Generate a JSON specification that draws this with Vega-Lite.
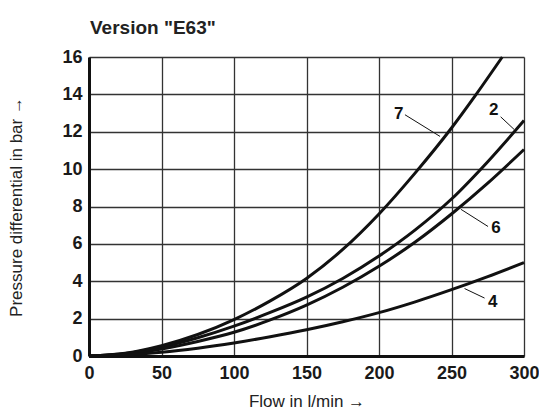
{
  "$schema": "https://vega.github.io/schema/vega-lite/v6.json",
  "width": 435,
  "height": 299,
  "autosize": {"type": "none"},
  "padding": {"left": 89, "top": 57, "right": 15, "bottom": 63},
  "background": "white",
  "title": {
    "text": "Version \"E63\"",
    "anchor": "start",
    "frame": "group",
    "font": "Liberation Sans",
    "fontSize": 19,
    "fontWeight": "bold",
    "color": "#222222",
    "baseline": "alphabetic",
    "offset": -5,
    "dx": 1
  },
  "config": {
    "view": {"stroke": null},
    "axis": {
      "labelFont": "Liberation Sans",
      "labelFontWeight": "bold",
      "labelFontSize": 18,
      "labelColor": "#1a1a1a",
      "titleFont": "Liberation Sans",
      "titleFontWeight": "normal",
      "titleFontSize": 17,
      "titleColor": "#222222",
      "domainColor": "#111111",
      "domainWidth": 3,
      "ticks": false,
      "gridColor": "#333333",
      "gridWidth": 1.3,
      "gridOpacity": 1
    }
  },
  "datasets": {
    "curves": [
      {"curve": "7", "flow": 0, "dp": 0},
      {"curve": "7", "flow": 25, "dp": 0.15},
      {"curve": "7", "flow": 50, "dp": 0.55},
      {"curve": "7", "flow": 75, "dp": 1.15},
      {"curve": "7", "flow": 100, "dp": 1.95},
      {"curve": "7", "flow": 125, "dp": 2.95},
      {"curve": "7", "flow": 150, "dp": 4.15},
      {"curve": "7", "flow": 175, "dp": 5.7},
      {"curve": "7", "flow": 200, "dp": 7.6},
      {"curve": "7", "flow": 225, "dp": 9.8},
      {"curve": "7", "flow": 250, "dp": 12.2},
      {"curve": "7", "flow": 267, "dp": 14.0},
      {"curve": "7", "flow": 285, "dp": 16.0},
      {"curve": "2", "flow": 0, "dp": 0},
      {"curve": "2", "flow": 25, "dp": 0.13},
      {"curve": "2", "flow": 50, "dp": 0.48},
      {"curve": "2", "flow": 75, "dp": 0.98},
      {"curve": "2", "flow": 100, "dp": 1.6},
      {"curve": "2", "flow": 125, "dp": 2.33},
      {"curve": "2", "flow": 150, "dp": 3.15},
      {"curve": "2", "flow": 175, "dp": 4.15},
      {"curve": "2", "flow": 200, "dp": 5.35},
      {"curve": "2", "flow": 225, "dp": 6.75},
      {"curve": "2", "flow": 250, "dp": 8.4},
      {"curve": "2", "flow": 275, "dp": 10.4},
      {"curve": "2", "flow": 300, "dp": 12.6},
      {"curve": "6", "flow": 0, "dp": 0},
      {"curve": "6", "flow": 25, "dp": 0.1},
      {"curve": "6", "flow": 50, "dp": 0.38},
      {"curve": "6", "flow": 75, "dp": 0.78},
      {"curve": "6", "flow": 100, "dp": 1.27},
      {"curve": "6", "flow": 125, "dp": 1.93},
      {"curve": "6", "flow": 150, "dp": 2.72},
      {"curve": "6", "flow": 175, "dp": 3.68},
      {"curve": "6", "flow": 200, "dp": 4.8},
      {"curve": "6", "flow": 225, "dp": 6.1},
      {"curve": "6", "flow": 250, "dp": 7.6},
      {"curve": "6", "flow": 275, "dp": 9.25},
      {"curve": "6", "flow": 300, "dp": 11.05},
      {"curve": "4", "flow": 0, "dp": 0},
      {"curve": "4", "flow": 25, "dp": 0.06},
      {"curve": "4", "flow": 50, "dp": 0.2},
      {"curve": "4", "flow": 75, "dp": 0.42},
      {"curve": "4", "flow": 100, "dp": 0.7},
      {"curve": "4", "flow": 125, "dp": 1.03},
      {"curve": "4", "flow": 150, "dp": 1.4},
      {"curve": "4", "flow": 175, "dp": 1.83},
      {"curve": "4", "flow": 200, "dp": 2.32},
      {"curve": "4", "flow": 225, "dp": 2.9},
      {"curve": "4", "flow": 250, "dp": 3.55},
      {"curve": "4", "flow": 275, "dp": 4.25},
      {"curve": "4", "flow": 300, "dp": 5.0}
    ],
    "labels": [
      {"curve": "7", "flow": 213.6, "dp": 12.93},
      {"curve": "2", "flow": 279.1, "dp": 13.15},
      {"curve": "6", "flow": 280.6, "dp": 6.86},
      {"curve": "4", "flow": 278.5, "dp": 2.87}
    ],
    "leaders": [
      {"curve": "7", "flow": 217.9, "dp": 12.91, "flow2": 242.1, "dp2": 11.75},
      {"curve": "2", "flow": 283.9, "dp": 12.8, "flow2": 293.1, "dp2": 12.13},
      {"curve": "6", "flow": 275.2, "dp": 6.93, "flow2": 256.5, "dp2": 7.85},
      {"curve": "4", "flow": 272.8, "dp": 3.1, "flow2": 259, "dp2": 3.61}
    ]
  },
  "encoding": {
    "x": {
      "field": "flow",
      "type": "quantitative",
      "scale": {"domain": [0, 300], "nice": false, "zero": true},
      "axis": {
        "title": "Flow in l/min \u2192",
        "tickCount": 6,
        "grid": true,
        "labelPadding": 8,
        "labelFlush": false,
        "labelOverlap": false,
        "titleBaseline": "alphabetic",
        "titleY": 50
      }
    },
    "y": {
      "field": "dp",
      "type": "quantitative",
      "scale": {"domain": [0, 16], "nice": false},
      "axis": {
        "title": "Pressure differential in bar \u2192",
        "tickCount": 8,
        "tickMinStep": 2,
        "grid": true,
        "labelPadding": 7,
        "labelFlush": false,
        "labelOverlap": false,
        "titleBaseline": "alphabetic",
        "titleX": -68
      }
    }
  },
  "layer": [
    {
      "data": {"name": "curves"},
      "mark": {"type": "line", "color": "#111111", "strokeWidth": 3, "interpolate": "monotone"},
      "encoding": {
        "detail": {"field": "curve"}
      }
    },
    {
      "data": {"name": "leaders"},
      "mark": {"type": "rule", "color": "#111111", "strokeWidth": 1},
      "encoding": {
        "x2": {"field": "flow2"},
        "y2": {"field": "dp2"}
      }
    },
    {
      "data": {"name": "labels"},
      "mark": {"type": "text", "font": "Liberation Sans", "fontWeight": "bold", "fontSize": 17, "color": "#111111", "align": "center", "baseline": "middle"},
      "encoding": {
        "text": {"field": "curve"}
      }
    }
  ]
}
